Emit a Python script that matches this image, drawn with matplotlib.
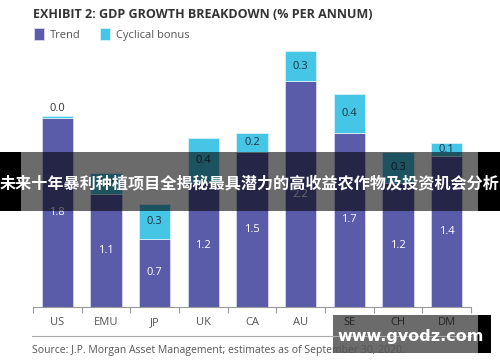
import matplotlib.pyplot as plt
from matplotlib.patches import Rectangle

# DATA
countries = ["US", "EMU", "JP", "UK", "CA", "AU", "SE", "CH", "DM"]
trend = [1.83, 1.1, 0.66, 1.2, 1.5, 2.19, 1.69, 1.2, 1.46]
bonus = [0.02, 0.2, 0.34, 0.44, 0.19, 0.29, 0.37, 0.3, 0.13]
trend_labels = ["1.8", "1.1", "0.7", "1.2", "1.5", "2.2", "1.7", "1.2", "1.4"]
bonus_labels = ["0.0", "0.2", "0.3", "0.4", "0.2", "0.3", "0.4", "0.3", "0.1"]

PURPLE = "#5a5caa"
CYAN = "#45c6e6"
GREY = "#555555"

fig = plt.figure(figsize=(5, 3.62), dpi=100)
ax = fig.add_axes([0.066, 0.152, 0.876, 0.738])

x = range(len(countries))
b1 = ax.bar(x, trend, width=0.65, color=PURPLE, edgecolor="#d8d8ee", linewidth=0.6, label="Trend")
b2 = ax.bar(x, bonus, width=0.65, bottom=trend, color=CYAN, edgecolor="#d8f2fa", linewidth=0.6,
            label="Cyclical bonus")

for i in x:
    ax.text(i, trend[i] / 2, trend_labels[i], ha="center", va="center", color="white",
            fontsize=8, family="Open Sans")
    if bonus[i] < 0.08:
        ax.text(i, trend[i] + bonus[i] + 0.02, bonus_labels[i], ha="center", va="bottom",
                color="#333333", fontsize=8, family="Open Sans")
    else:
        ax.text(i, trend[i] + bonus[i] / 2, bonus_labels[i], ha="center", va="center",
                color="#1e3040", fontsize=8, family="Open Sans")

ax.set_xlim(-0.5, len(countries) - 0.5)
ax.set_ylim(0, 2.59)
ax.set_yticks([])
for s in ["top", "right", "left"]:
    ax.spines[s].set_visible(False)
ax.spines["bottom"].set_color("#999999")
ax.spines["bottom"].set_linewidth(0.8)

# ticks at category boundaries, labels in centre
ax.set_xticks([i - 0.5 for i in range(len(countries) + 1)])
ax.set_xticklabels([])
ax.tick_params(axis="x", direction="out", length=4, color="#999999", width=0.8)
for i, c in enumerate(countries):
    ax.text(i, -0.15, c, ha="center", va="center", color=GREY, fontsize=8, family="Open Sans")

# second rule under labels
fig.add_artist(plt.Line2D([0.064, 0.942], [1 - 336 / 362] * 2, color="#aaaaaa", linewidth=0.8))

fig.text(0.066, 1 - 14 / 362, "EXHIBIT 2: GDP GROWTH BREAKDOWN (% PER ANNUM)", ha="left", va="center",
         fontsize=9, fontweight="bold", color="#333333", family="Open Sans")
fig.legend(handles=[b1, b2], loc="center left", bbox_to_anchor=(0.048, 1 - 34.5 / 362), ncol=2,
           frameon=False, handlelength=0.9, handleheight=1.2, handletextpad=0.5,
           columnspacing=1.8, labelcolor=GREY, prop={"family": "Open Sans", "size": 8})
fig.text(0.064, 1 - 351 / 362, "Source: J.P. Morgan Asset Management; estimates as of September 30, 2020.",
         ha="left", va="center", fontsize=7.5, color=GREY, family="Open Sans")

# overlay banner
fig.add_artist(Rectangle((0, 1 - 211 / 362), 1, 59 / 362, transform=fig.transFigure,
                         facecolor="black", alpha=0.58, edgecolor="none"))
fig.add_artist(Rectangle((0, 1 - 211 / 362), 21 / 500, 59 / 362, transform=fig.transFigure,
                         facecolor="black", edgecolor="none"))
fig.add_artist(Rectangle((478 / 500, 1 - 211 / 362), 22 / 500, 59 / 362, transform=fig.transFigure,
                         facecolor="black", edgecolor="none"))
fig.text(0.5, 1 - 183 / 362, "未来十年暴利种植项目全揭秘最具潜力的高收益农作物及投资机会分析",
         ha="center", va="center", fontsize=11.6, fontweight="bold", color="white",
         family=["Noto Sans CJK SC", "DejaVu Sans"])

# watermark
fig.add_artist(Rectangle((333 / 500, 1 - 353 / 362), 145 / 500, 38 / 362, transform=fig.transFigure,
                         facecolor="black", alpha=0.58, edgecolor="none"))
fig.add_artist(Rectangle((478 / 500, 1 - 353 / 362), 13 / 500, 38 / 362, transform=fig.transFigure,
                         facecolor="black", edgecolor="none"))
fig.text(411 / 500, 1 - 337 / 362, "www.gvodz.com", ha="center", va="center",
         fontsize=11.5, fontweight="bold", color="white", family="DejaVu Sans")

fig.savefig("out.png", dpi=100)
